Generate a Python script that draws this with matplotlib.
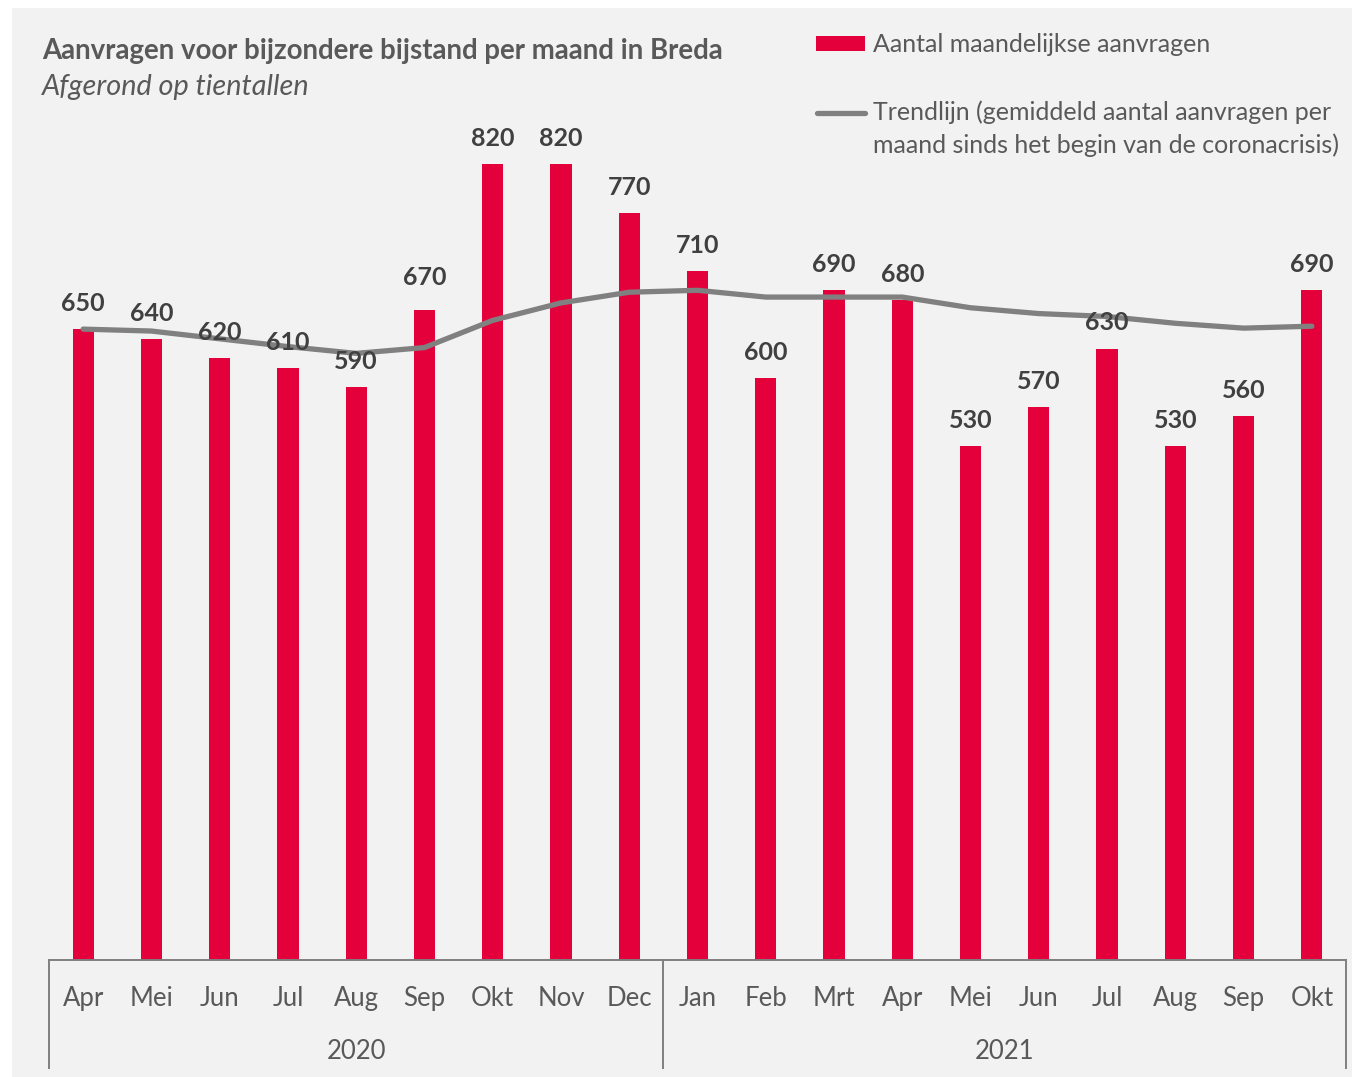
import matplotlib
matplotlib.use("Agg")
import matplotlib.pyplot as plt
from matplotlib.patches import Rectangle
from matplotlib.lines import Line2D

plt.rcParams["font.family"] = ["Lato", "DejaVu Sans"]

# data
months = ["Apr", "Mei", "Jun", "Jul", "Aug", "Sep", "Okt", "Nov", "Dec",
          "Jan", "Feb", "Mrt", "Apr", "Mei", "Jun", "Jul", "Aug", "Sep", "Okt"]
years = ["2020", "2021"]
year_counts = [9, 10]
aanvragen = [650, 640, 620, 610, 590, 670, 820, 820, 770,
             710, 600, 690, 680, 530, 570, 630, 530, 560, 690]
trendlijn = [650, 648, 640, 632, 625, 631, 659, 677, 688,
             690, 683, 683, 683, 672, 666, 663, 656, 651, 653]

RED = "#e4003a"
TREND = "#808080"
BG = "#f2f2f2"
AXIS = "#7f7f7f"
TXT = "#595959"
LBL = "#404040"

W, H = 1352, 1077
fig = plt.figure(figsize=(W / 100, H / 100), dpi=100, facecolor="white")


def fx(px):
    return px / W


def fy(py):
    return 1 - py / H


# grijs paneel
fig.patches.append(Rectangle((fx(12), 0), 1 - fx(12), fy(8), transform=fig.transFigure,
                             facecolor=BG, edgecolor="none", zorder=-5))

ax_left, ax_right, ax_base, ax_top = 49, 1346, 960, 8
ax = fig.add_axes([fx(ax_left), fy(ax_base), fx(ax_right - ax_left), (ax_base - ax_top) / H])
ax.set_facecolor("none")
ax.set_zorder(1)
ax_h = ax_base - ax_top

x = list(range(len(months)))
ax.bar(x, aanvragen, width=0.31, color=RED, zorder=2)
ax.plot(x, trendlijn, color=TREND, lw=3.8, solid_capstyle="round",
        solid_joinstyle="round", zorder=3)

# label Sep 2020 staat iets hoger (ontwijkt de trendlijn)
extra = {5: 5}
for xi, v in zip(x, aanvragen):
    ax.annotate(f"{v}", (xi, v), xytext=(0, 13 + extra.get(xi, 0)), textcoords="offset points",
                ha="center", va="baseline", fontsize=18, fontweight="bold",
                color=LBL, zorder=4)

ax.set_xlim(-0.5, len(months) - 0.5)
ax.set_ylim(0, ax_h / 0.9706)
for s in ["top", "left", "right"]:
    ax.spines[s].set_visible(False)
ax.spines["bottom"].set_color(AXIS)
ax.spines["bottom"].set_linewidth(1.4)
ax.set_yticks([])
ax.set_xticks([])

xt = ax.get_xaxis_transform()
px = 1 / ax_h
for xi, m in zip(x, months):
    ax.text(xi, -(1006 - ax_base) * px, m, transform=xt, ha="center", va="baseline",
            fontsize=18.5, color=TXT)

# jaartal-niveau
start = 0
bounds = [-0.5]
for yr, n in zip(years, year_counts):
    mid = start + (n - 1) / 2
    ax.text(mid, -(1059 - ax_base) * px, yr, transform=xt, ha="center", va="baseline",
            fontsize=18.5, color=TXT)
    start += n
    bounds.append(start - 0.5)
for b in bounds:
    ax.plot([b, b], [0, -(1068 - ax_base) * px], transform=xt, color=AXIS, lw=1.4,
            clip_on=False)

# titel
fig.text(fx(42), fy(59), "Aanvragen voor bijzondere bijstand per maand in Breda",
         fontsize=19.9, fontweight="bold", color=TXT, va="baseline")
fig.text(fx(42), fy(95), "Afgerond op tientallen", fontsize=20.8, fontstyle="italic",
         color=TXT, va="baseline")

# legenda
fig.patches.append(Rectangle((fx(816), fy(51)), fx(49), 15 / H, transform=fig.transFigure,
                             facecolor=RED, edgecolor="none"))
fig.text(fx(873), fy(52), "Aantal maandelijkse aanvragen", fontsize=18, color=TXT,
         va="baseline")
fig.lines.append(Line2D([fx(817), fx(865)], [fy(113), fy(113)], transform=fig.transFigure,
                        color=TREND, lw=3.8, solid_capstyle="round"))
fig.text(fx(873), fy(120), "Trendlijn (gemiddeld aantal aanvragen per", fontsize=18,
         color=TXT, va="baseline")
fig.text(fx(873), fy(153), "maand sinds het begin van de coronacrisis)", fontsize=18,
         color=TXT, va="baseline")

fig.savefig("out.png", dpi=100, facecolor="white")
